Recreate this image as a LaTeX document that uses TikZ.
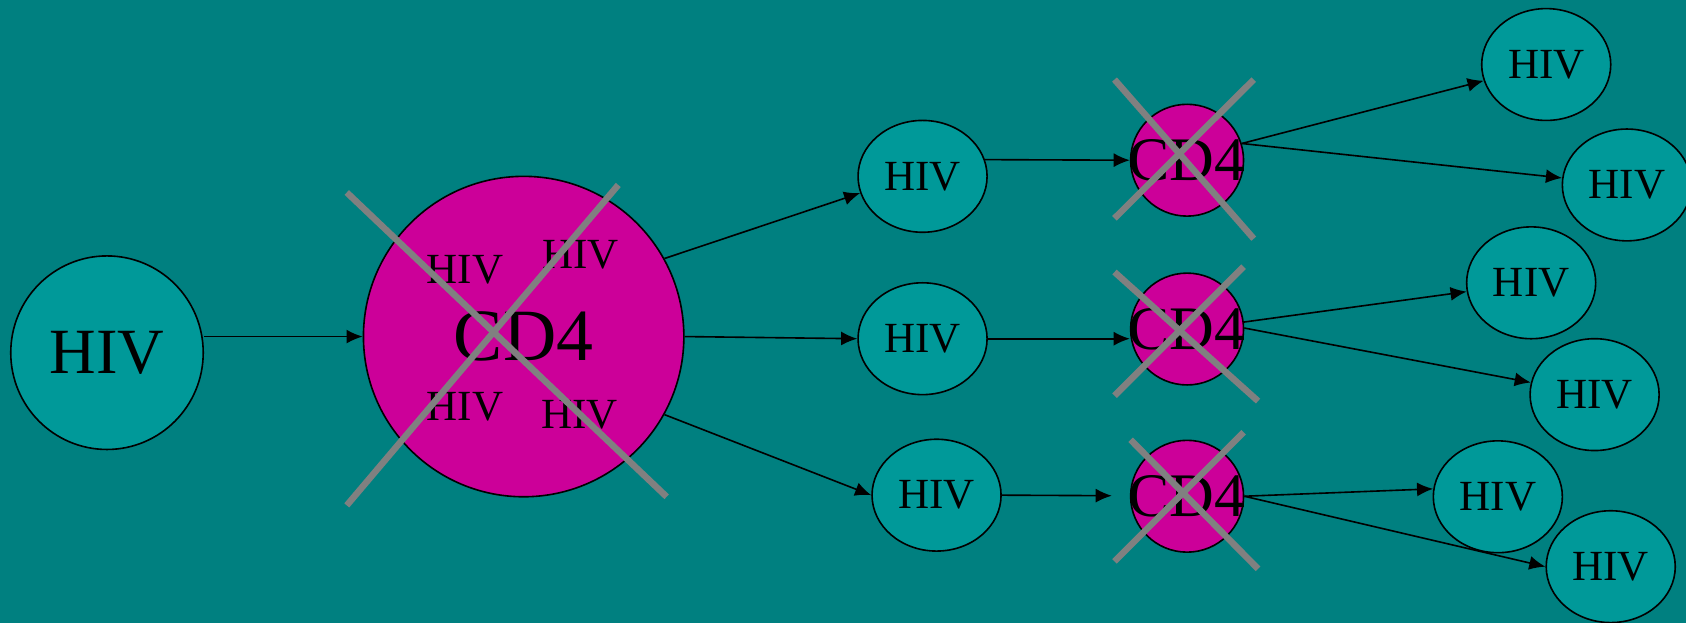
\documentclass[tikz,border=0pt]{standalone}
\usepackage{fontspec}
\setmainfont{Liberation Serif}
\usetikzlibrary{arrows.meta, shapes.geometric}
\definecolor{bgteal}{HTML}{008080}
\definecolor{hivteal}{HTML}{009999}
\definecolor{cdpink}{HTML}{CC0099}
\definecolor{crossgray}{HTML}{808080}

\begin{document}
\begin{tikzpicture}[x=0.5pt, y=-0.5pt,
  virus/.style={draw, ellipse, fill=hivteal, line width=.75pt, inner sep=0pt,
    minimum width=60pt, minimum height=52pt, font=\fontsize{20}{20}\selectfont},
  cell/.style={draw, ellipse, fill=cdpink, line width=.75pt, inner sep=0pt,
    minimum width=52.5pt, minimum height=52pt, font=\fontsize{28.8}{28.8}\selectfont},
  inside/.style={inner sep=0pt, font=\fontsize{20}{20}\selectfont},
  infect/.style={arrows={-Latex[length=7.5pt, width=6.5pt]}, line width=.75pt},
  cross/.style={draw=crossgray, line width=3pt}]
\fill[bgteal] (0,0) rectangle (1568,579);
\useasboundingbox (0,0) rectangle (1568,579);

%first virus and the cell it enters
\node[virus, minimum width=89.5pt, minimum height=90pt,
  font=\fontsize{30}{30}\selectfont] at (99.5,328) (hiv) {HIV};
\node[cell, minimum size=149pt, font=\fontsize{34.3}{34.3}\selectfont]
  at (487,313) (cd4) {CD4};
\node[inside] at (432.5,251) (in1) {HIV};
\node[inside] at (540,236.5) (in2) {HIV};
\node[inside] at (432.5,378) (in3) {HIV};
\node[inside] at (539,386) (in4) {HIV};

%second generation
\node[virus] at (858,164) (h1) {HIV};
\node[virus] at (858,315) (h2) {HIV};
\node[virus] at (871,460.5) (h3) {HIV};
\node[cell] at (1104,149) (c1) {\makebox[0pt]{CD4}};
\node[cell] at (1104,306) (c2) {\makebox[0pt]{CD4}};
\node[cell] at (1104,461.5) (c3) {\makebox[0pt]{CD4}};

%third generation
\node[virus] at (1438,60) (r1) {HIV};
\node[virus] at (1513,172) (r2) {HIV};
\node[virus] at (1424,263) (r3) {HIV};
\node[virus] at (1483,367) (r4) {HIV};
\node[virus] at (1393,462) (r5) {HIV};
\node[virus] at (1498,527) (r6) {HIV};

%crossed out cells
\draw[cross] (322.5,179) -- (620,462);
\draw[cross] (575,172) -- (322.5,470);
\draw[cross] (1036.5,74) -- (1166,222);
\draw[cross] (1166,74) -- (1036.5,203);
\draw[cross] (1036.5,253) -- (1170,373);
\draw[cross] (1156.5,248) -- (1036.5,368);
\draw[cross] (1051.5,409) -- (1170,529);
\draw[cross] (1156.5,402) -- (1036.5,522);

\draw[infect] (hiv.east |- cd4.west) -- (cd4.west);
\draw[infect] (cd4.29) -- (h1.195);
\draw[infect] (cd4.east) -- (h2.west);
\draw[infect] (cd4.-29) -- (h3.west);
\draw[infect] (h1.15) -- (c1.west);
\draw[infect] (h2.east) -- (h2.east -| c2.west);
%this one stops short of the cell
\coordinate (e3) at (1034,461);
\draw[infect] (h3.east) -- (e3);
\draw[infect] (c1.17) -- (r1);
\draw[infect] (c1.17) -- (r2);
\draw[infect] (c2.7) -- (r3);
\draw[infect] (c2.1) -- (r4);
\draw[infect] (c3.east) -- (r5.173);
\draw[infect] (c3.east) -- (r6.west);
\end{tikzpicture}
\end{document}
